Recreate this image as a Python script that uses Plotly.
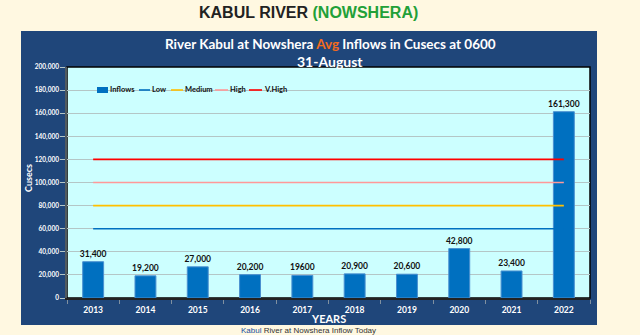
import plotly.graph_objects as go

years = ["2013", "2014", "2015", "2016", "2017", "2018", "2019", "2020", "2021", "2022"]
inflows = [31400, 19200, 27000, 20200, 19600, 20900, 20600, 42800, 23400, 161300]
inflow_labels = ["31,400", "19,200", "27,000", "20,200", "19600", "20,900", "20,600", "42,800", "23,400", "161,300"]
level_names = ["Low", "Medium", "High", "V.High"]
level_values = [60000, 80000, 100000, 120000]
level_colors = ["#0070C0", "#FFC000", "#FF9999", "#FF0000"]
y_ticks = [0, 20000, 40000, 60000, 80000, 100000, 120000, 140000, 160000, 180000, 200000]
y_tick_labels = ["0", "20,000", "40,000", "60,000", "80,000", "100,000", "120,000", "140,000", "160,000", "180,000", "200,000"]

W, H = 640, 335
L, R, T, B = 67, 590, 67, 298


def px(xp):
    return (xp - L) / (R - L)


def py(yp):
    return (B - yp) / (B - T)


FONT = "Lato"
fig = go.Figure()

fig.add_trace(go.Bar(
    x=years, y=inflows, name="Inflows", width=0.4,
    marker=dict(color="#0070C0", line=dict(color="#4A90D0", width=1)),
    text=inflow_labels, textposition="outside", cliponaxis=False, constraintext="none",
    textfont=dict(family=FONT, size=8.5, color="#111111", weight="bold"),
    showlegend=False,
))
for name, val, col in zip(level_names, level_values, level_colors):
    fig.add_trace(go.Scatter(
        x=years, y=[val] * len(years), mode="lines", name=name,
        line=dict(color=col, width=1.6), showlegend=False,
    ))

shapes = [
    # dark panel
    dict(type="rect", xref="paper", yref="paper", x0=px(21), x1=px(597), y0=py(325), y1=py(31),
         fillcolor="#1F467A", line=dict(width=0), layer="below"),
    # plot area
    dict(type="rect", xref="paper", yref="paper", x0=0, x1=1, y0=0, y1=1,
         fillcolor="#CCFFFF", line=dict(color="#000000", width=1.5), layer="below"),
]
annotations = [
    dict(text="<b>KABUL RIVER <span style='color:#22A038'>(NOWSHERA)</span></b>",
         xref="paper", yref="paper", x=px(308), y=py(13), showarrow=False,
         font=dict(family="Liberation Sans", size=16, color="#222222"), xanchor="center", yanchor="middle"),
    dict(text="<b>River Kabul at Nowshera <span style='color:#F26B1D'>Avg</span> Inflows in Cusecs at 0600</b>",
         xref="paper", yref="paper", x=px(330), y=py(44), showarrow=False,
         font=dict(family=FONT, size=13.5, color="#FFFFFF"), xanchor="center", yanchor="middle"),
    dict(text="<b>31-August</b>", xref="paper", yref="paper", x=px(330), y=py(61), showarrow=False,
         font=dict(family=FONT, size=14, color="#FFFFFF"), xanchor="center", yanchor="middle"),
    dict(text="<b>YEARS</b>", xref="paper", yref="paper", x=px(328), y=py(318), showarrow=False,
         font=dict(family=FONT, size=11, color="#FFFFFF"), xanchor="center", yanchor="middle"),
    dict(text="<b>Cusecs</b>", xref="paper", yref="paper", x=px(28), y=py(178), showarrow=False,
         textangle=-90, font=dict(family=FONT, size=9, color="#FFFFFF"), xanchor="center", yanchor="middle"),
    dict(text="<span style='color:#2050A0'>Kabul</span> River at Nowshera Inflow Today",
         xref="paper", yref="paper", x=px(308), y=py(330), showarrow=False,
         font=dict(family="Liberation Sans", size=8, color="#333333"), xanchor="center", yanchor="middle"),
]

# manual compact legend
leg_y = 90
shapes.append(dict(type="rect", xref="paper", yref="paper", x0=px(97), x1=px(108), y0=py(93), y1=py(87),
                   fillcolor="#0070C0", line=dict(width=0)))
annotations.append(dict(text="<b>Inflows</b>", xref="paper", yref="paper", x=px(108), y=py(leg_y),
                        showarrow=False, xanchor="left", yanchor="middle",
                        font=dict(family=FONT, size=7.5, color="#111111")))
leg_lines = [(139, 150), (171, 183), (215, 228), (249, 262)]
for (x0, x1), name, col in zip(leg_lines, level_names, level_colors):
    shapes.append(dict(type="line", xref="paper", yref="paper", x0=px(x0), x1=px(x1), y0=py(leg_y), y1=py(leg_y),
                       line=dict(color=col, width=1.6)))
    annotations.append(dict(text="<b>" + name + "</b>", xref="paper", yref="paper", x=px(x1), y=py(leg_y),
                            showarrow=False, xanchor="left", yanchor="middle",
                            font=dict(family=FONT, size=7.5, color="#111111")))

fig.update_layout(
    width=W, height=H,
    margin=dict(l=L, r=W - R, t=T, b=H - B),
    paper_bgcolor="#FFF8E1", plot_bgcolor="rgba(0,0,0,0)",
    shapes=shapes, annotations=annotations, showlegend=False,
    bargap=0.6,
)
fig.update_xaxes(
    type="category", showgrid=False, showline=True, linecolor="#222222", linewidth=2,
    ticks="outside", tickson="boundaries", ticklen=4, tickcolor="#8090A0",
    tickfont=dict(family=FONT, size=8.5, color="#FFFFFF", weight="bold"), ticklabelstandoff=3,
)
fig.update_yaxes(
    range=[0, 200000], tickvals=y_ticks, ticktext=y_tick_labels,
    showgrid=True, gridcolor="#B4C6C6", gridwidth=1.2, zeroline=False,
    showline=True, linecolor="#505A60", linewidth=1.5,
    ticks="outside", ticklen=5, tickcolor="#B4C6C6",
    tickfont=dict(family=FONT, size=6.5, color="#FFFFFF", weight="bold"),
)

fig.write_html("out.html")
